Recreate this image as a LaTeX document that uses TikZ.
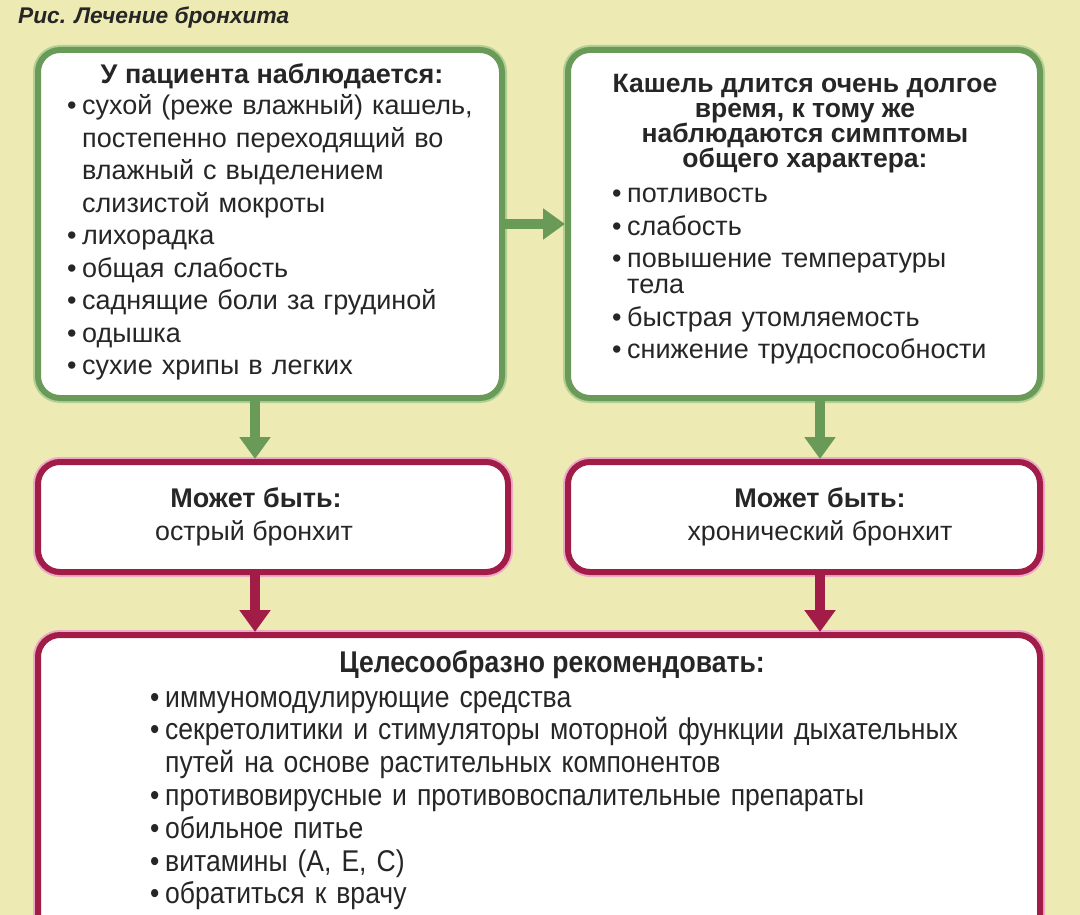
\documentclass[tikz,border=0pt]{standalone}
\usepackage{fontspec}
\setmainfont{Liberation Sans}
\newfontfamily\narrowfont[FakeStretch=0.885]{Liberation Sans}
\usetikzlibrary{positioning, arrows.meta, calc}
\definecolor{bgColor}{RGB}{238,234,180}
\definecolor{grnColor}{RGB}{106,154,88}
\definecolor{grnLight}{RGB}{178,208,150}
\definecolor{redColor}{RGB}{162,28,72}
\definecolor{redLight}{RGB}{236,170,200}
\definecolor{txtColor}{RGB}{38,38,38}
\newcommand{\bitem}{\par\noindent\makebox[15pt][l]{\textbullet}}
\newcommand{\nxt}{\par\noindent\hspace*{15pt}}
\tikzset{
    greenbox/.style={
        preaction={draw=grnLight, line width=10pt},
        draw=grnColor,
        line width=6pt,
        rounded corners=22pt,
        fill=white,
        inner sep=0pt
    },
    redbox/.style={
        preaction={draw=redLight, line width=10pt},
        draw=redColor,
        line width=6pt,
        rounded corners=22pt,
        fill=white,
        inner sep=0pt
    },
    headtext/.style={
        text=txtColor,
        font=\fontsize{27}{27}\selectfont\bfseries,
        align=center,
        inner sep=0pt
    },
    listtext/.style={
        text=txtColor,
        font=\fontsize{27}{32.5}\selectfont,
        align=left,
        anchor=north west,
        inner sep=0pt
    },
    gptr/.style={
        -{Triangle[width=30pt,length=22pt]},
        line width=10pt,
        grnColor
    },
    rptr/.style={
        -{Triangle[width=30pt,length=22pt]},
        line width=10pt,
        redColor
    }
}

\begin{document}
\begin{tikzpicture}[x=1pt, y=-1pt]
    \fill[bgColor] (0,0) rectangle (1080,915);
    \useasboundingbox (0,0) rectangle (1080,915);
    \clip (0,0) rectangle (1080,915);

    \node[anchor=west, inner sep=0pt, text=txtColor, font=\fontsize{22.7}{22.7}\selectfont\bfseries\itshape] (title) at (18,18) {Рис. Лечение бронхита};

    % Boxes
    \node[greenbox, minimum width=464pt, minimum height=348pt] (signs) at (270,224) {};
    \node[greenbox, minimum width=472pt, minimum height=348pt] (longcough) at (804,224) {};
    \node[redbox, minimum width=470pt, minimum height=110pt] (acute) at (273,517) {};
    \node[redbox, minimum width=472pt, minimum height=110pt] (chronic) at (804,517) {};
    \node[redbox, minimum width=1002pt, minimum height=330pt] (advice) at (539,800) {};

    % Texts
    \node[headtext] (signsHead) at (272,76) {У пациента наблюдается:};
    \node[listtext, text width=430pt] (signsList) at (67,82) {%
        \bitem сухой (реже влажный) кашель,
        \nxt постепенно переходящий во
        \nxt влажный с выделением
        \nxt слизистой мокроты
        \bitem лихорадка
        \bitem общая слабость
        \bitem саднящие боли за грудиной
        \bitem одышка
        \bitem сухие хрипы в легких};

    \node[headtext, anchor=north, font=\fontsize{26.5}{25}\selectfont\bfseries] (longHead) at (805,74) {Кашель длится очень долгое\\время, к тому же\\наблюдаются симптомы\\общего характера:};
    \node[listtext, text width=430pt] (longList) at (612,170) {%
        \bitem потливость
        \bitem слабость
        \bitem повышение температуры
        \par\vspace*{-6.5pt}\noindent\hspace*{15pt}тела
        \bitem быстрая утомляемость
        \bitem снижение трудоспособности};

    \node[headtext] (acuteHead) at (256,498) {Может быть:};
    \node[text=txtColor, font=\fontsize{26.8}{26.8}\selectfont, inner sep=0pt] (acuteName) at (254,533) {острый бронхит};
    \node[headtext] (chronicHead) at (820,498) {Может быть:};
    \node[text=txtColor, font=\fontsize{26.8}{26.8}\selectfont, inner sep=0pt] (chronicName) at (820,533) {хронический бронхит};

    \node[headtext, font=\fontsize{30}{30}\narrowfont\bfseries] (adviceHead) at (552,665) {Целесообразно рекомендовать:};
    \node[listtext, text width=880pt, font=\fontsize{30}{32.8}\narrowfont] (adviceList) at (150,674) {%
        \bitem иммуномодулирующие средства
        \bitem секретолитики и стимуляторы моторной функции дыхательных
        \nxt путей на основе растительных компонентов
        \bitem противовирусные и противовоспалительные препараты
        \bitem обильное питье
        \bitem витамины (А, Е, С)
        \bitem обратиться к врачу};

    % Links
    \coordinate (colL) at (255,0);
    \coordinate (colR) at (820,0);
    \draw[gptr] (signs.east) -- (longcough.west);
    \draw[gptr] (signs.south -| colL) -- (acute.north -| colL);
    \draw[gptr] (longcough.south -| colR) -- (chronic.north -| colR);
    \draw[rptr] (acute.south -| colL) -- (advice.north -| colL);
    \draw[rptr] (chronic.south -| colR) -- (advice.north -| colR);
\end{tikzpicture}
\end{document}
